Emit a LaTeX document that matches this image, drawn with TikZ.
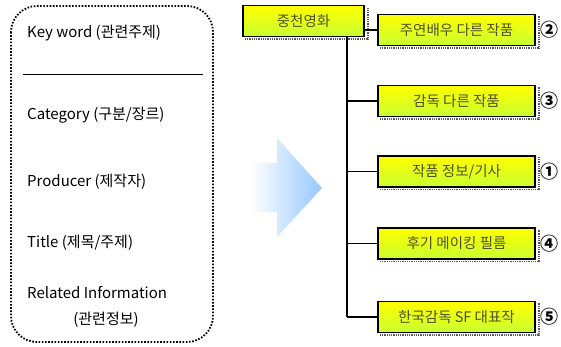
\documentclass[tikz,border=0pt]{standalone}
\usepackage{fontspec}
\setmainfont{Noto Sans CJK KR}
\usetikzlibrary{shadings}
\definecolor{boxtxt}{RGB}{80,80,40}
\definecolor{ytop}{RGB}{255,255,0}
\definecolor{ybot}{RGB}{200,255,50}
\definecolor{arrblue}{RGB}{150,200,255}
\tikzset{
  leftlbl/.style={anchor=west, font=\fontsize{15}{16}\selectfont, inner sep=0pt},
  ybox/.style={draw=black, line width=1.3pt, top color=ytop, bottom color=ybot,
    minimum width=157pt, minimum height=31pt, inner sep=0pt,
    font=\fontsize{14.5}{16}\selectfont, text=boxtxt},
  conn/.style={line width=1.4pt, black},
  shad/.style={dash pattern=on 0.8pt off 1pt, line width=1.2pt, gray!70!black},
  num/.style={font=\bfseries\fontsize{18}{19}\selectfont, inner sep=0pt}
}
\begin{document}
\begin{tikzpicture}[x=1pt,y=-1pt]
\useasboundingbox (0,0) rectangle (561,347);
% left dotted box
\draw[line width=1.8pt, dash pattern=on 1.6pt off 1.6pt, rounded corners=26pt] (11,6) rectangle (213,342);
\node[leftlbl] (kw) at (27,33) {Key word (관련주제)};
\coordinate (la) at (23,74);
\coordinate (lb) at (203,74);
\draw[line width=0.8pt] (la) -- (lb);
\node[leftlbl] (cat) at (27,115) {Category (구분/장르)};
\node[leftlbl] (prod) at (27,182) {Producer (제작자)};
\node[leftlbl] (tit) at (27,243) {Title (제목/주제)};
\node[leftlbl] (rel) at (27,293) {Related Information};
\node[anchor=center, font=\fontsize{15}{16}\selectfont, inner sep=0pt] (rel2) at (106,320) {(관련정보)};
% arrow
\shade[left color=white, right color=arrblue, shading angle=90]
  (250,163) -- (277,163) -- (277,138) -- (322,188) -- (277,237) -- (277,212) -- (250,212) -- cycle;
% top box
\draw[shad] (245,39) -- (368,39) -- (368,8);
\node[ybox, minimum width=121pt] (top) at (303.5,21) {중천영화};
% child box shadows
\foreach \y in {30,101,171.5,243.5,317}{
  \draw[shad] (380,\y+18) -- (539,\y+18) -- (539,\y-14);
}
\node[ybox] (c1) at (456.5,30) {주연배우 다른 작품};
\node[ybox] (c2) at (456.5,101) {감독 다른 작품};
\node[ybox] (c3) at (456.5,171.5) {작품 정보/기사};
\node[ybox] (c4) at (456.5,243.5) {후기 메이킹 필름};
\node[ybox] (c5) at (456.5,317) {한국감독 SF 대표작};
% numbers
\node[num] (n1) at (549,30) {②};
\node[num] (n2) at (549,101) {③};
\node[num] (n3) at (549,171.5) {①};
\node[num] (n4) at (549,243.5) {④};
\node[num] (n5) at (549,317) {⑤};
% connectors
\coordinate (trunkTop) at (347,36.5);
\coordinate (trunkBot) at (347,317);
\draw[conn] (trunkTop) -- (trunkBot);
\draw[conn] (top.east |- c1) -- (c1.west);
\draw[conn] (trunkTop |- c2) -- (c2.west);
\draw[conn] (trunkTop |- c3) -- (c3.west);
\draw[conn] (trunkTop |- c4) -- (c4.west);
\draw[conn] (trunkBot) -- (c5.west);
\end{tikzpicture}
\end{document}
